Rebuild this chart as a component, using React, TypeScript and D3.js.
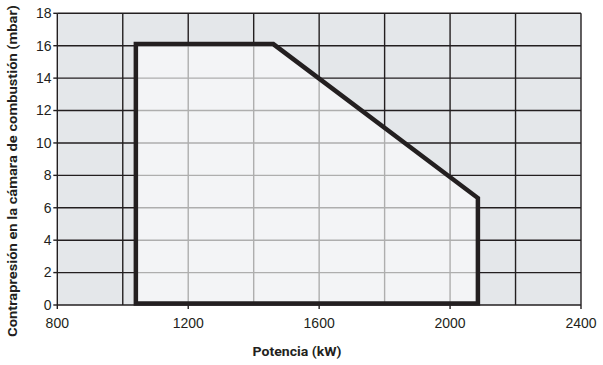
import React from "react";
import * as d3 from "d3";

const xTicks = [800, 1200, 1600, 2000, 2400];
const yTicks = [0, 2, 4, 6, 8, 10, 12, 14, 16, 18];
const xGrid = [1000, 1200, 1400, 1600, 1800, 2000, 2200, 2400];
const envX = [1040, 1040, 1460, 2085, 2085];
const envY = [0.1, 16.1, 16.1, 6.6, 0.1];
const xTitle = "Potencia (kW)";
const yTitle = "Contrapresión en la cámara de combustión (mbar)";

const W = 603, H = 365;
const m = { l: 57.3, r: 581, t: 13.3, b: 305 };

export default function App() {
  const x = d3.scaleLinear().domain([800, 2400]).range([m.l, m.r]);
  const y = d3.scaleLinear().domain([0, 18]).range([m.b, m.t]);
  const pts: [number, number][] = envX.map((v, i) => [x(v), y(envY[i])]);
  const poly = d3.line()(pts) + "Z";
  const dark = "#231f20";
  const font = "'Liberation Sans', Arial, sans-serif";
  return (
    <svg width={W} height={H} style={{ position: "absolute", left: 0, top: 0 }}>
      <defs>
        <clipPath id="env">
          <path d={poly} />
        </clipPath>
      </defs>
      <rect x={m.l} y={m.t} width={m.r - m.l} height={m.b - m.t} fill="#e4e7ea" />
      {yTicks.slice(1).map((t) => (
        <line key={"h" + t} x1={m.l} x2={m.r} y1={y(t)} y2={y(t)} stroke={dark} strokeWidth={1.4} />
      ))}
      {xGrid.map((t) => (
        <line key={"v" + t} x1={x(t)} x2={x(t)} y1={m.t} y2={m.b} stroke={dark} strokeWidth={1.4} />
      ))}
      <path d={poly} fill="#f3f4f6" />
      <g clipPath="url(#env)">
        {yTicks.slice(1).map((t) => (
          <line key={"hi" + t} x1={m.l} x2={m.r} y1={y(t)} y2={y(t)} stroke="#aeaeae" strokeWidth={1.4} />
        ))}
        {xGrid.map((t) => (
          <line key={"vi" + t} x1={x(t)} x2={x(t)} y1={m.t} y2={m.b} stroke="#aeaeae" strokeWidth={1.4} />
        ))}
      </g>
      <line x1={m.l} x2={m.l} y1={m.t} y2={m.b} stroke={dark} strokeWidth={1.4} />
      <line x1={m.l} x2={m.r} y1={m.b} y2={m.b} stroke={dark} strokeWidth={1.4} />
      <path d={poly} fill="none" stroke={dark} strokeWidth={4.5} strokeLinejoin="miter" />
      {yTicks.map((t) => (
        <g key={"yt" + t}>
          <line x1={m.l - 4} x2={m.l} y1={y(t)} y2={y(t)} stroke={dark} strokeWidth={1.4} />
          <text x={51.5} y={y(t)} dy="0.35em" textAnchor="end" fontFamily={font} fontSize={14} fill="#231f20">
            {t}
          </text>
        </g>
      ))}
      {xTicks.map((t) => (
        <g key={"xt" + t}>
          <line x1={x(t)} x2={x(t)} y1={m.b} y2={m.b + 4} stroke={dark} strokeWidth={1.4} />
          <text x={x(t)} y={328.3} textAnchor="middle" fontFamily={font} fontSize={14} fill="#231f20">
            {t}
          </text>
        </g>
      ))}
      <text x={297} y={356} textAnchor="middle" fontFamily="Roboto, sans-serif" fontWeight="bold" fontSize={12.5}
        textLength={89} lengthAdjust="spacingAndGlyphs" fill="#231f20">
        {xTitle}
      </text>
      <text transform="translate(17,171) rotate(-90)" textAnchor="middle" fontFamily="Roboto, sans-serif" fontWeight="bold"
        fontSize={12.5} textLength={332} lengthAdjust="spacingAndGlyphs" fill="#231f20">
        {yTitle}
      </text>
    </svg>
  );
}
